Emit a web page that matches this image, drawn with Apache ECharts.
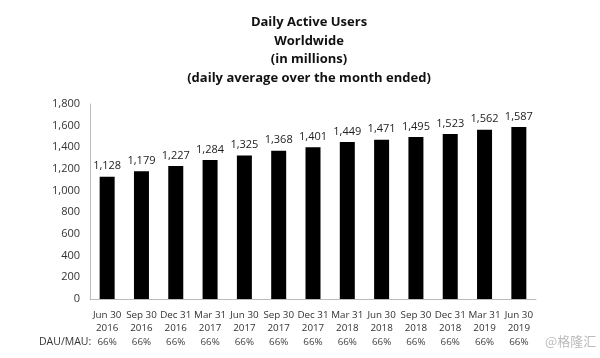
<!DOCTYPE html>
<html><head><meta charset="utf-8">
<script src="https://cdn.jsdelivr.net/npm/echarts@6/dist/echarts.min.js"></script>
<style>html,body{margin:0;padding:0;background:#fff}#c{width:600px;height:358px}</style>
</head><body><div id="c"></div>
<script>
const categories = ["Jun 30\n2016","Sep 30\n2016","Dec 31\n2016","Mar 31\n2017","Jun 30\n2017","Sep 30\n2017","Dec 31\n2017","Mar 31\n2018","Jun 30\n2018","Sep 30\n2018","Dec 31\n2018","Mar 31\n2019","Jun 30\n2019"];
const dau = [1128,1179,1227,1284,1325,1368,1401,1449,1471,1495,1523,1562,1587];
const ratio = ["66%","66%","66%","66%","66%","66%","66%","66%","66%","66%","66%","66%","66%"];
const yTicks = [0,200,400,600,800,1000,1200,1400,1600,1800];
const titleLines = ["Daily Active Users","Worldwide","(in millions)","(daily average over the month ended)"];

const FONT = "'Open Sans', 'Noto Sans', sans-serif";
const chart = echarts.init(document.getElementById('c'));
chart.setOption({
  animation: false,
  backgroundColor: '#fff',
  title: {
    text: titleLines.join('\n'),
    left: 304, textAlign: 'center', top: 8,
    textStyle: {fontFamily: FONT, fontSize: 13, fontWeight: 'bold', color: '#111', lineHeight: 18.7}
  },
  grid: {left: 90, right: 64, top: 104, bottom: 59},
  xAxis: {
    type: 'category', data: categories,
    axisLine: {lineStyle: {color: '#bbb'}},
    axisTick: {show: false},
    axisLabel: {
      interval: 0, margin: 10, color: '#333', fontFamily: FONT, fontSize: 9.8, lineHeight: 12.5,
      formatter: function(v, i){ return v + '\n{p|' + ratio[i] + '}'; },
      rich: {p: {fontFamily: FONT, fontSize: 9.8, color: '#444', lineHeight: 17}}
    }
  },
  yAxis: {
    type: 'value', min: yTicks[0], max: yTicks[yTicks.length-1], interval: 200,
    axisLine: {show: true, lineStyle: {color: '#bbb'}},
    axisTick: {show: false},
    splitLine: {show: false},
    axisLabel: {color: '#333', fontFamily: FONT, fontSize: 11, margin: 10,
      formatter: v => v.toLocaleString('en-US')}
  },
  series: [{
    type: 'bar', data: dau, barWidth: 15,
    itemStyle: {color: '#000'},
    label: {show: true, position: 'top', distance: 5, color: '#222', fontFamily: FONT, fontSize: 11,
      formatter: p => p.value.toLocaleString('en-US')}
  }],
  graphic: [
    {type: 'text', left: 39, top: 337, style: {text: 'DAU/MAU:', font: "10.5px 'Open Sans', sans-serif", fill: '#333'}},
    {type: 'text', left: 545, top: 335, style: {text: '@格隆汇', font: "13px 'Noto Sans CJK SC', sans-serif", fill: '#bbb'}}
  ]
});
</script></body></html>
